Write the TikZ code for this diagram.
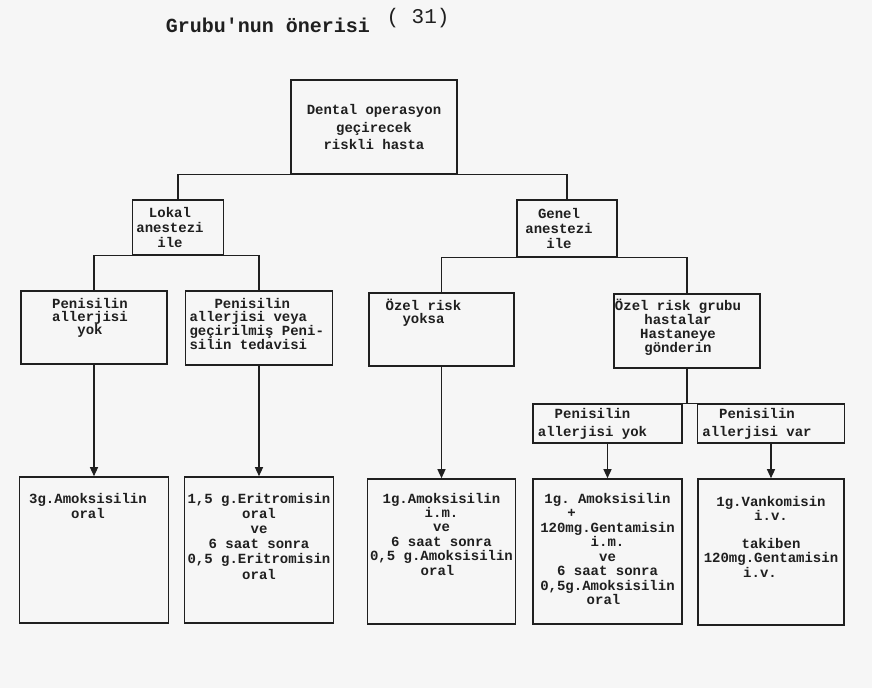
\documentclass[tikz,border=0pt]{standalone}
\usepackage{fontspec}
\setmonofont{Liberation Mono}
\usetikzlibrary{arrows.meta}
\newcommand\bxt[4]{\parbox[c][#1][#3]{#2}{#4}}
\newcommand\shl[1]{\centering\rightskip=#1 plus 1fil\relax}
\definecolor{pagebg}{gray}{0.965}
\definecolor{ink}{gray}{0.12}
\begin{document}
\begin{tikzpicture}[x=1pt,y=-1pt,
  box/.style={draw=ink, line width=1.6pt, inner sep=0pt, text=ink,
    font=\ttfamily\bfseries\fontsize{14}{14.5}\selectfont},
  conn/.style={draw=ink, line width=1.3pt},
  arr/.style={conn, -{Triangle[length=9pt,width=8pt]}}]
\useasboundingbox (0,0) rectangle (872,688);
\fill[pagebg] (0,0) rectangle (872,688);
% title
\node[inner sep=0pt, text=ink, font=\ttfamily\bfseries\fontsize{20}{20}\selectfont] (title) at (268,25) {Grubu'nun önerisi};
\node[inner sep=0pt, text=ink, font=\ttfamily\fontsize{21}{21}\selectfont] (ref) at (418,18) {( 31)};
% level 0
\node[box] (root) at (374,127) {\bxt{94pt}{166pt}{c}{\baselineskip=17.5pt\shl{0pt}Dental operasyon\\geçirecek\\riskli hasta}};
% level 1
\node[box] (lokal) at (178,227.5) {\bxt{55pt}{91pt}{c}{\baselineskip=15pt\shl{16pt}Lokal\\anestezi\\ile}};
\node[box] (genel) at (567,228.5) {\bxt{57pt}{100pt}{c}{\baselineskip=15pt\shl{16pt}Genel\\anestezi\\ile}};
% level 2
\node[box] (p1) at (94,327.5) {\bxt{73pt}{146pt}{t}{\baselineskip=13.3pt\vspace*{7pt}\shl{8pt}Penisilin\\allerjisi\\yok}};
\node[box] (p2) at (259,328) {\bxt{74pt}{147pt}{t}{\baselineskip=13pt\vspace*{7pt}\leftskip=4pt\rightskip=0pt plus 1fil\relax\hspace*{25pt}Penisilin\\allerjisi veya\\geçirilmiş Peni-\\silin tedavisi}};
\node[box] (o1) at (441.5,329.5) {\bxt{73pt}{145pt}{t}{\baselineskip=13pt\vspace*{6pt}\shl{36pt}Özel risk\\yoksa}};
\node[box] (o2) at (687,331) {\bxt{74pt}{146pt}{t}{\baselineskip=14pt\vspace*{5pt}\shl{18pt}Özel risk grubu\\hastalar\\Hastaneye\\gönderin}};
% level 3 (special risk group)
\node[box] (q1) at (607.5,423.5) {\bxt{39pt}{149pt}{c}{\baselineskip=18pt\shl{30pt}Penisilin\\allerjisi yok}};
\node[box] (q2) at (771,423.5) {\bxt{39pt}{147pt}{c}{\baselineskip=18pt\shl{28pt}Penisilin\\allerjisi var}};
% regimens
\node[box] (a) at (94,550) {\bxt{146pt}{149pt}{t}{\baselineskip=15pt\vspace*{16pt}\shl{12pt}3g.Amoksisilin\\oral}};
\node[box] (b) at (259,550) {\bxt{146pt}{149pt}{t}{\baselineskip=15.2pt\vspace*{16pt}\shl{0pt}1,5 g.Eritromisin\\oral\\ve\\6 saat sonra\\0,5 g.Eritromisin\\oral}};
\node[box] (c) at (441.5,551.5) {\bxt{145pt}{148pt}{t}{\baselineskip=14.4pt\vspace*{14pt}\shl{0pt}1g.Amoksisilin\hspace*{12pt}\\i.m.\hspace*{16pt}\\ve\hspace*{16pt}\\6 saat sonra\hspace*{16pt}\\0,5 g.Amoksisilin\\oral\hspace*{8pt}}};
\node[box] (d) at (607.5,551.5) {\bxt{145pt}{149pt}{t}{\baselineskip=14.5pt\vspace*{14pt}\shl{0pt}1g. Amoksisilin\hspace*{10pt}\\\hspace*{-72pt}\makebox[0pt]{+}\\120mg.Gentamisin\\i.m.\hspace*{12pt}\\ve\hspace*{12pt}\\6 saat sonra\hspace*{12pt}\\0,5g.Amoksisilin\\oral\hspace*{8pt}}};
\node[box] (e) at (771,552) {\bxt{146pt}{146pt}{t}{\baselineskip=14.5pt\vspace*{17pt}\shl{0pt}1g.Vankomisin\hspace*{22pt}\\i.v.\hspace*{22pt}\\[13pt]takiben\hspace*{22pt}\\120mg.Gentamisin\\i.v.\hspace*{22pt}}};
% connectors
\draw[conn] (lokal.north) -- (lokal.north |- root.south) -- (genel.north |- root.south) -- (genel.north);
\draw[conn] (p1.north) -- (p1.north |- lokal.south) -- (p2.north |- lokal.south) -- (p2.north);
\draw[conn] (o1.north) -- (o1.north |- genel.south) -- (o2.north |- genel.south) -- (o2.north);
\draw[conn] (o2.south) -- (o2.south |- q1.north);
\draw[conn] (q1.north west) -- (q2.north east);
\draw[arr] (p1.south) -- (a.north);
\draw[arr] (p2.south) -- (b.north);
\draw[arr] (o1.south) -- (c.north);
\draw[arr] (q1.south) -- (d.north);
\draw[arr] (q2.south) -- (e.north);
\end{tikzpicture}
\end{document}
